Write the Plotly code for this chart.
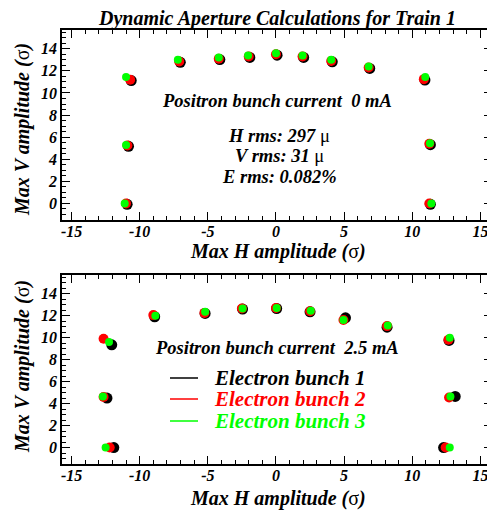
import plotly.graph_objects as go

# ---- Data: top panel (positron bunch current 0 mA) ----
top_b1_x = [-10.92, -10.82, -10.62, -7.02, -4.12, -1.92, 0.08, 2.03, 4.13, 6.88, 10.93, 11.33, 11.33]
top_b1_y = [-0.08, 5.17, 11.12, 12.77, 13.02, 13.22, 13.42, 13.22, 12.82, 12.22, 11.17, 5.32, -0.08]
top_b2_x = [-11.0, -10.9, -10.7, -7.1, -4.2, -2.0, 0.0, 1.95, 4.05, 6.8, 10.85, 11.25, 11.25]
top_b2_y = [0.0, 5.25, 11.2, 12.85, 13.1, 13.3, 13.5, 13.3, 12.9, 12.3, 11.25, 5.4, 0.0]
top_b3_x = [-11.1, -11.0, -11.0, -7.2, -4.2, -2.05, 0.0, 1.95, 4.05, 6.8, 10.95, 11.3, 11.4]
top_b3_y = [0.0, 5.3, 11.45, 13.0, 13.2, 13.4, 13.6, 13.4, 13.0, 12.4, 11.45, 5.45, 0.0]

# ---- Data: bottom panel (positron bunch current 2.5 mA) ----
bot_b1_x = [-11.9, -12.4, -12.05, -8.9, -5.2, -2.45, 0.05, 2.5, 5.1, 8.15, 12.7, 13.15, 12.3]
bot_b1_y = [0.0, 4.5, 9.35, 11.9, 12.2, 12.6, 12.65, 12.35, 11.8, 10.95, 9.75, 4.65, 0.0]
bot_b2_x = [-12.2, -12.65, -12.65, -9.0, -5.25, -2.5, 0.0, 2.5, 4.95, 8.15, 12.65, 12.7, 12.45]
bot_b2_y = [0.0, 4.6, 9.9, 12.05, 12.25, 12.65, 12.7, 12.4, 11.6, 11.05, 9.8, 4.55, 0.0]
bot_b3_x = [-12.5, -12.7, -12.25, -8.85, -5.2, -2.45, 0.05, 2.55, 4.95, 8.2, 12.75, 12.8, 12.75]
bot_b3_y = [0.0, 4.65, 9.6, 12.0, 12.35, 12.65, 12.7, 12.45, 11.6, 11.1, 10.0, 4.65, 0.0]

bunch_names = ["Electron bunch 1", "Electron bunch 2", "Electron bunch 3"]
bunch_colors = ["#000000", "#ff0000", "#00ff00"]
marker_sizes = [11, 10, 8]

x_tickvals = [-15, -10, -5, 0, 5, 10, 15]
y_tickvals = [0, 2, 4, 6, 8, 10, 12, 14]

title_text = "Dynamic Aperture Calculations for Train 1"
UP = "<span style='font-style:normal;font-weight:normal'>{}</span>"
xtitle = "Max H amplitude (" + UP.format("σ") + ")"
ytitle = "Max V amplitude (" + UP.format("σ") + ")"
mu = UP.format("μ")

FONT = "Liberation Serif"
W, H, OFF = 495, 510, 8          # page body has an 8px margin
PW, PH = W - OFF, H - OFF


def px(x):
    return (x - OFF) / PW


def py(y):
    return 1 - (y - OFF) / PH


def bi(s):
    return f"<b><i>{s}</i></b>"


fig = go.Figure()

top_sets = [(top_b1_x, top_b1_y), (top_b2_x, top_b2_y), (top_b3_x, top_b3_y)]
bot_sets = [(bot_b1_x, bot_b1_y), (bot_b2_x, bot_b2_y), (bot_b3_x, bot_b3_y)]

for i, (xs, ys) in enumerate(top_sets):
    fig.add_trace(go.Scatter(x=xs, y=ys, mode="markers", xaxis="x", yaxis="y", name=bunch_names[i],
                             marker=dict(color=bunch_colors[i], size=marker_sizes[i], line=dict(width=0)),
                             showlegend=False, hoverinfo="skip"))
for i, (xs, ys) in enumerate(bot_sets):
    fig.add_trace(go.Scatter(x=xs, y=ys, mode="markers", xaxis="x2", yaxis="y2", name=bunch_names[i],
                             marker=dict(color=bunch_colors[i], size=marker_sizes[i], line=dict(width=0)),
                             showlegend=False, hoverinfo="skip"))

tickfont = dict(family=FONT, size=16, color="black", weight=700)


def xax(anchor, domain):
    return dict(domain=domain, anchor=anchor, range=[-15.7, 15.85], tickmode="array",
                tickvals=x_tickvals, ticktext=[bi(str(v)) for v in x_tickvals],
                ticks="inside", ticklen=8, tickwidth=1, tickcolor="black",
                minor=dict(dtick=1, tick0=0, ticks="inside", ticklen=4, tickwidth=1, tickcolor="black"),
                showline=True, linecolor="black", linewidth=1.8, mirror="allticks",
                showgrid=False, zeroline=False, tickfont=tickfont, ticklabelstandoff=-4)


def yax(anchor, domain):
    return dict(domain=domain, anchor=anchor, range=[-1.5, 15.7], tickmode="array",
                tickvals=y_tickvals, ticktext=[bi(str(v)) for v in y_tickvals],
                ticks="inside", ticklen=8, tickwidth=1, tickcolor="black",
                minor=dict(dtick=0.5, tick0=0, ticks="inside", ticklen=4, tickwidth=1, tickcolor="black"),
                showline=True, linecolor="black", linewidth=1.8, mirror="allticks",
                showgrid=False, zeroline=False, tickfont=tickfont, ticklabelstandoff=0)


xd = [px(62), px(492)]
fig.update_layout(
    width=PW, height=PH,
    margin=dict(l=0, r=0, t=0, b=0),
    paper_bgcolor="white", plot_bgcolor="white",
    xaxis=xax("y", xd), yaxis=yax("x", [py(220), py(30)]),
    xaxis2=xax("y2", xd), yaxis2=yax("x2", [py(464), py(275)]),
    showlegend=False,
)

f = dict(family=FONT, color="black", weight=700)
ann = []
ann.append(dict(text=bi(title_text), x=px(277), y=py(19), xref="paper", yref="paper",
                showarrow=False, font=dict(size=20, **f), xanchor="center", yanchor="middle"))
for yc in [251, 498]:
    ann.append(dict(text=bi(xtitle), x=px(278), y=py(yc), xref="paper", yref="paper",
                    showarrow=False, font=dict(size=20, **f), xanchor="center", yanchor="middle"))
for yc in [130, 367]:
    ann.append(dict(text=bi(ytitle), x=px(22), y=py(yc), xref="paper", yref="paper", textangle=-90,
                    showarrow=False, font=dict(size=20, **f), xanchor="center", yanchor="middle"))
ann.append(dict(text=bi("Positron bunch current  0 mA"), x=px(277), y=py(101), xref="paper", yref="paper",
                showarrow=False, font=dict(size=18.5, **f), xanchor="center", yanchor="middle"))
for txt, yc in [(f"H rms: 297 {mu}", 136), (f"V rms: 31 {mu}", 156.5), ("E rms: 0.082%", 177)]:
    ann.append(dict(text=bi(txt), x=px(279), y=py(yc), xref="paper", yref="paper",
                    showarrow=False, font=dict(size=18.5, **f), xanchor="center", yanchor="middle"))
ann.append(dict(text=bi("Positron bunch current  2.5 mA"), x=px(277), y=py(348), xref="paper", yref="paper",
                showarrow=False, font=dict(size=18.5, **f), xanchor="center", yanchor="middle"))

# legend (bottom panel): short line sample + coloured label
shapes = []
for i, yc in enumerate([378, 399, 421]):
    shapes.append(dict(type="line", xref="paper", yref="paper", x0=px(170), x1=px(198),
                       y0=py(yc), y1=py(yc), line=dict(color=bunch_colors[i], width=1.5)))
    ann.append(dict(text=bi(bunch_names[i]), x=px(212), y=py(yc), xref="paper", yref="paper",
                    showarrow=False, font=dict(family=FONT, size=21, color=bunch_colors[i], weight=700),
                    xanchor="left", yanchor="middle"))
fig.update_layout(annotations=ann, shapes=shapes)

fig.write_html("out.html")
